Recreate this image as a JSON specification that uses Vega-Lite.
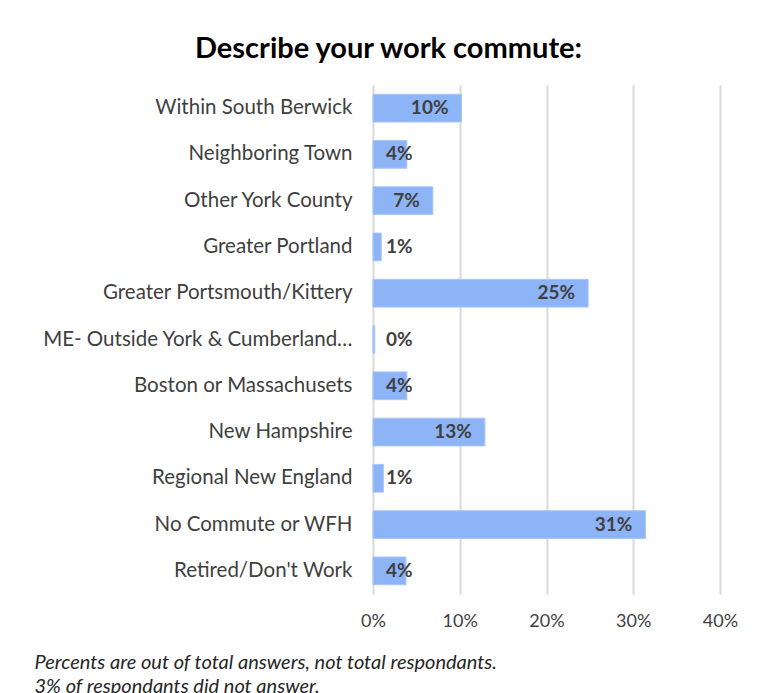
{
  "$schema": "https://vega.github.io/schema/vega-lite/v6.json",
  "width": 347,
  "height": 509,
  "autosize": {"type": "none"},
  "padding": {"left": 373, "top": 85, "right": 46, "bottom": 99},
  "background": "white",
  "config": {
    "font": "Lato",
    "view": {"stroke": null}
  },
  "title": {
    "text": "Describe your work commute:",
    "font": "Lato",
    "fontSize": 29,
    "fontWeight": "bold",
    "color": "#000000",
    "anchor": "middle",
    "dx": -158,
    "offset": 21
  },
  "data": {
    "values": [
      {"place": "Within South Berwick", "share": 0.102},
      {"place": "Neighboring Town", "share": 0.039},
      {"place": "Other York County", "share": 0.069},
      {"place": "Greater Portland", "share": 0.0095},
      {"place": "Greater Portsmouth/Kittery", "share": 0.248},
      {"place": "ME- Outside York & Cumberland…", "share": 0.002},
      {"place": "Boston or Massachusets", "share": 0.039},
      {"place": "New Hampshire", "share": 0.129},
      {"place": "Regional New England", "share": 0.012},
      {"place": "No Commute or WFH", "share": 0.314},
      {"place": "Retired/Don't Work", "share": 0.038}
    ]
  },
  "encoding": {
    "y": {
      "field": "place",
      "type": "nominal",
      "sort": null,
      "scale": {"paddingInner": 0.4, "paddingOuter": 0.2},
      "axis": {
        "title": null,
        "domain": false,
        "ticks": false,
        "labelPadding": 21,
        "labelFontSize": 20.5,
        "labelColor": "#404040",
        "labelLimit": 400
      }
    }
  },
  "layer": [
    {
      "mark": {"type": "bar", "color": "#8EB4F8", "stroke": "#A9C6F9", "strokeWidth": 1},
      "encoding": {
        "x": {
          "field": "share",
          "type": "quantitative",
          "scale": {"domain": [0, 0.4], "nice": false},
          "axis": {
            "values": [0, 0.1, 0.2, 0.3, 0.4],
            "format": ".0%",
            "grid": true,
            "gridColor": "#D9D9D9",
            "gridWidth": 2,
            "domain": false,
            "ticks": false,
            "labelFlush": false,
            "labelFontSize": 18,
            "labelColor": "#404040",
            "labelPadding": 18,
            "title": ["Percents are out of total answers, not total respondants.", "3% of respondants did not answer."],
            "titleFont": "Lato",
            "titleFontStyle": "italic",
            "titleFontWeight": "normal",
            "titleFontSize": 20,
            "titleColor": "#262626",
            "titleAlign": "left",
            "titleAnchor": "start",
            "titleBaseline": "alphabetic",
            "titleX": -339,
            "titleY": 74,
            "titleLineHeight": 24
          }
        }
      }
    },
    {
      "transform": [{"filter": "datum.share >= 0.05"}],
      "mark": {"type": "text", "align": "right", "baseline": "middle", "dx": -13, "fontSize": 19, "fontWeight": "bold", "color": "#404040"},
      "encoding": {
        "x": {"field": "share", "type": "quantitative"},
        "text": {"field": "share", "type": "quantitative", "format": ".0%"}
      }
    },
    {
      "transform": [{"filter": "datum.share < 0.05"}],
      "mark": {"type": "text", "align": "left", "baseline": "middle", "dx": 13, "fontSize": 19, "fontWeight": "bold", "color": "#404040"},
      "encoding": {
        "x": {"datum": 0, "type": "quantitative"},
        "text": {"field": "share", "type": "quantitative", "format": ".0%"}
      }
    }
  ]
}
